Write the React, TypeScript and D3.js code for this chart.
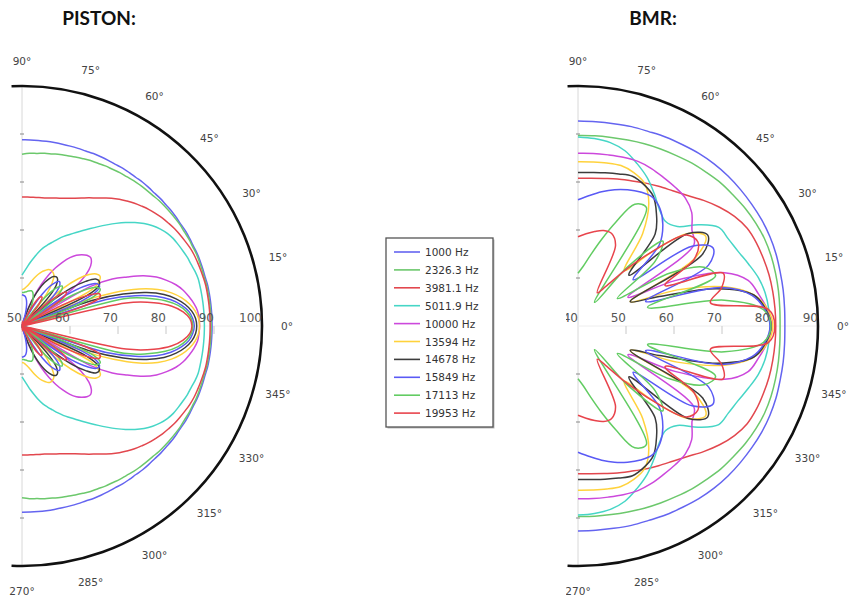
import React from 'react';
import * as d3 from 'd3';

// ---------- data ----------
const seriesNames = ['1000 Hz', '2326.3 Hz', '3981.1 Hz', '5011.9 Hz', '10000 Hz', '13594 Hz', '14678 Hz', '15849 Hz', '17113 Hz', '19953 Hz'];
const seriesColors = ['#6464f0', '#6cc86c', '#e2474e', '#46d6c6', '#cc48dc', '#ffd23c', '#3c3c3c', '#5a5af5', '#62cc62', '#e8444c'];

const angleTickValues = [90, 75, 60, 45, 30, 15, 0, -15, -30, -45, -60, -75, -90];
const angleTickLabels = ['90°', '75°', '60°', '45°', '30°', '15°', '0°', '345°', '330°', '315°', '300°', '285°', '270°'];
const pistonRadialTicks = [50, 60, 70, 80, 90, 100];
const bmrRadialTicks = [40, 50, 60, 70, 80, 90];

// PISTON: level (dB) at 0°..90° every 2.5° (pattern is symmetric about 0°)
const pistonAngles = [0, 2.5, 5, 7.5, 10, 12.5, 15, 17.5, 20, 22.5, 25, 27.5, 30, 32.5, 35, 37.5, 40, 42.5, 45, 47.5, 50, 52.5, 55, 57.5, 60, 62.5, 65, 67.5, 70, 72.5, 75, 77.5, 80, 82.5, 85, 87.5, 90];
const piston1000 = [89.6, 89.6, 89.6, 89.6, 89.6, 89.6, 89.5, 89.5, 89.5, 89.5, 89.4, 89.4, 89.4, 89.3, 89.3, 89.3, 89.2, 89.2, 89.1, 89.1, 89.1, 89.0, 89.0, 89.0, 88.9, 88.9, 88.9, 88.9, 88.8, 88.8, 88.8, 88.8, 88.8, 88.8, 88.8, 88.8, 88.8];
const piston2326 = [89.4, 89.4, 89.4, 89.4, 89.4, 89.4, 89.3, 89.3, 89.3, 89.3, 89.2, 89.2, 89.1, 89.1, 89.0, 88.9, 88.8, 88.7, 88.5, 88.4, 88.3, 88.2, 88.0, 87.9, 87.7, 87.6, 87.4, 87.3, 87.1, 86.9, 86.7, 86.6, 86.4, 86.3, 86.1, 86.0, 85.8];
const piston3981 = [89.2, 89.2, 89.2, 89.2, 89.2, 89.2, 89.1, 89.0, 88.9, 88.8, 88.6, 88.3, 88.0, 87.7, 87.3, 86.9, 86.4, 85.9, 85.3, 84.7, 84.0, 83.3, 82.5, 81.6, 80.8, 80.1, 79.4, 78.8, 78.3, 77.9, 77.6, 77.3, 77.1, 77.0, 76.9, 76.9, 76.9];
const piston5011 = [88.0, 88.0, 88.0, 88.0, 88.0, 88.0, 88.0, 87.8, 87.5, 87.3, 87.0, 86.7, 86.4, 85.9, 85.2, 84.3, 83.2, 81.9, 80.5, 79.0, 77.5, 76.1, 74.8, 73.6, 72.5, 71.5, 70.6, 69.6, 68.6, 67.7, 66.8, 65.7, 64.5, 63.4, 62.3, 61.4, 60.6];
const piston10000 = [87.0, 86.9, 86.7, 86.1, 85.3, 84.4, 83.2, 81.6, 79.8, 77.4, 74.2, 71.2, 66.5, 47, 58.5, 65.5, 68.2, 69.6, 70.2, 70.0, 69.4, 68.6, 67.4, 65.8, 64.0, 62.0, 59.6, 57.0, 54.5, 52.0, 49.5, 47, 45, 44, 42, 41, 40];
const piston13594 = [87.0, 86.8, 86.2, 85.2, 83.8, 81.9, 79.3, 75.6, 70.3, 63.0, 45, 66.5, 68.6, 69.3, 68.9, 67.6, 65.3, 61.6, 55.0, 45, 53.0, 58.5, 60.9, 62.4, 62.9, 63.1, 63.0, 62.5, 62.0, 61.3, 60.5, 59.7, 59.0, 58.4, 58.0, 57.7, 57.6];
const piston14678 = [86.4, 86.2, 85.5, 84.3, 82.6, 80.3, 76.9, 72.1, 65.5, 45, 64.8, 68.0, 68.6, 68.2, 66.2, 63.1, 57.4, 45, 52.4, 58.5, 61.1, 62.2, 62.5, 62.2, 61.4, 60.2, 58.6, 56.7, 54.1, 50.9, 46.9, 41, 36, 36, 41, 43, 44];
const piston15849 = [85.9, 85.6, 84.9, 83.5, 81.5, 78.6, 74.4, 68.4, 45, 62.9, 67.2, 68.2, 67.7, 65.4, 61.1, 53.3, 45, 57.0, 60.3, 61.7, 62.1, 61.4, 60.1, 57.9, 54.9, 48.9, 41, 41, 47.9, 50.4, 52.9, 54.4, 55.4, 56.0, 56.3, 56.4, 56.5];
const piston17113 = [85.6, 85.3, 84.4, 82.8, 80.3, 76.7, 72.0, 45, 59.0, 66.3, 68.0, 67.5, 64.9, 59.6, 45, 52.6, 59.0, 61.3, 61.8, 60.9, 59.0, 55.9, 50.0, 45, 47.6, 51.6, 54.6, 56.0, 56.8, 57.4, 57.6, 57.5, 57.4, 57.2, 57.1, 57.0, 57.0];
const piston19953 = [85.4, 85.0, 83.7, 81.5, 77.9, 72.2, 47, 61.9, 67.2, 67.5, 65.1, 59.4, 45, 56.7, 60.9, 61.6, 60.1, 56.4, 47.4, 43, 52.4, 55.9, 57.3, 57.2, 56.4, 54.4, 51.9, 47.4, 42, 35, 40, 45, 47, 48, 50, 51, 51];

// BMR: level (dB) at 0°..90° every 5° (symmetric about 0°)
const bmrAngles = [0, 5, 10, 15, 20, 25, 30, 35, 40, 45, 50, 55, 60, 65, 70, 75, 80, 85, 90];
const bmr1000 = [83.1, 83.2, 83.4, 83.6, 83.9, 84.1, 84.2, 84.2, 84.2, 84.2, 84.1, 83.9, 83.6, 83.4, 83.1, 83.0, 82.8, 82.7, 82.7];
const bmr2326 = [82.1, 82.2, 82.4, 82.6, 82.8, 82.9, 82.8, 82.6, 82.3, 82.1, 81.7, 81.4, 81.0, 80.7, 80.4, 80.1, 79.9, 79.8, 79.7];
const bmr3981 = [81.2, 81.2, 81.2, 81.2, 81.1, 81.0, 80.7, 79.8, 78.5, 77.0, 75.5, 74.4, 73.6, 72.9, 72.2, 71.7, 71.2, 70.9, 70.8];
const bmr5011 = [80.0, 79.9, 79.6, 78.9, 77.8, 76.8, 76.2, 75.8, 72.8, 69.3, 68.4, 69.6, 71.8, 74.1, 76.0, 77.8, 78.8, 79.2, 79.4];
const bmr10000 = [80.4, 79.6, 78.2, 76.7, 72.5, 62.5, 52, 69.5, 71, 73.5, 74.8, 75.3, 75.7, 76.2, 76.5, 76.4, 76.2, 76.1, 76.0];
const bmr13594 = [80.6, 79.7, 77.2, 71.5, 62, 52, 68, 72.5, 70, 62, 55, 63.5, 69.5, 72.8, 74, 74.6, 74.5, 74.3, 74.2];
const bmr14678 = [80.2, 79.3, 77.2, 70, 58, 52, 70, 73, 70, 55, 65, 68.5, 71.3, 72.5, 73.2, 72.8, 72.4, 72.1, 72.0];
const bmr15849 = [80.0, 79.1, 76.8, 71.0, 55, 70, 72.5, 69, 55, 64, 67.5, 69.8, 71.0, 70.8, 70.2, 69.4, 68.4, 67.3, 66.3];
const bmr17113 = [80.2, 78.8, 71, 55, 70.5, 69, 62, 50, 61, 65, 56, 46, 68.5, 68, 63, 58.5, 55, 52.5, 51];
const bmr19953 = [81.0, 79.8, 68, 71, 72.2, 60, 68, 70.5, 69.5, 62, 55, 50, 48, 58.5, 60.5, 60.6, 60, 59.3, 58.6];

const pistonSeries = [piston1000, piston2326, piston3981, piston5011, piston10000, piston13594, piston14678, piston15849, piston17113, piston19953];
const bmrSeries = [bmr1000, bmr2326, bmr3981, bmr5011, bmr10000, bmr13594, bmr14678, bmr15849, bmr17113, bmr19953];

// ---------- drawing ----------
const R = 240;
const LABEL_R = 265;
const rad = (deg: number) => (deg * Math.PI) / 180;

type Pt = { a: number; v: number };

function mirrored(angles: number[], values: number[]): Pt[] {
  const pts: Pt[] = [];
  for (let i = angles.length - 1; i > 0; i--) pts.push({ a: -angles[i], v: values[i] });
  for (let i = 0; i < angles.length; i++) pts.push({ a: angles[i], v: values[i] });
  return pts;
}

function Polar(props: {
  cx: number; cy: number; domain: [number, number]; ticks: number[];
  angles: number[]; series: number[][]; curve: any; clipX?: number; id: string;
}) {
  const { cx, cy, domain, ticks, angles, series, curve, clipX, id } = props;
  const r = d3.scaleLinear().domain(domain).range([0, R]).clamp(true);
  const line = d3
    .lineRadial<Pt>()
    .angle((d) => rad(90 - d.a))
    .radius((d) => r(d.v))
    .curve(curve);

  const arc = d3.path();
  arc.arc(0, 0, R, rad(-92.5), rad(92.5), false);

  const vTicks = d3.range(-5, 6).filter((k) => k !== 0);

  return (
    <g clipPath={clipX !== undefined ? `url(#${id})` : undefined}>
      {clipX !== undefined && (
        <defs>
          <clipPath id={id}>
            <rect x={clipX} y={0} width={400} height={607} />
          </clipPath>
        </defs>
      )}
      <g transform={`translate(${cx},${cy})`}>
        <line x1={0} y1={-R} x2={0} y2={R} stroke="#d8d8d8" strokeWidth={1} />
        {vTicks.map((k) => (
          <line key={'vt' + k} x1={-2} x2={2} y1={k * 48} y2={k * 48} stroke="#888" strokeWidth={1} />
        ))}
        <line x1={0} y1={0} x2={R} y2={0} stroke="#eeeeee" strokeWidth={1} />
        {ticks.slice(1).map((t) => (
          <line key={'ht' + t} x1={r(t)} x2={r(t)} y1={0} y2={8} stroke="#c8c8c8" strokeWidth={1} />
        ))}
        {series.map((vals, i) => (
          <path key={'s' + i} d={line(mirrored(angles, vals)) || ''} fill="none" stroke={seriesColors[i]} strokeWidth={1.5} strokeLinejoin="round" />
        ))}
        <path d={arc.toString()} fill="none" stroke="#111" strokeWidth={2.6} />
        {ticks.map((t) => (
          <text key={'rl' + t} x={r(t)} y={-4} textAnchor="end" fontFamily="DejaVu Sans, sans-serif" fontSize={12} fill="#555">
            {t}
          </text>
        ))}
        {angleTickValues.map((a, i) => (
          <text
            key={'al' + a}
            x={LABEL_R * Math.cos(rad(a))}
            y={-LABEL_R * Math.sin(rad(a))}
            dy="0.35em"
            textAnchor="middle"
            fontFamily="DejaVu Sans, sans-serif"
            fontSize={10.5}
            fill="#444"
          >
            {angleTickLabels[i]}
          </text>
        ))}
      </g>
    </g>
  );
}

function Legend() {
  const x0 = 386, y0 = 238, w = 107, h = 189;
  const step = 17.9;
  return (
    <g>
      <rect x={x0 + 1.5} y={y0 + 1.5} width={w} height={h} fill="#bbb" />
      <rect x={x0} y={y0} width={w} height={h} fill="#fff" stroke="#555" strokeWidth={1.3} />
      {seriesNames.map((name, i) => {
        const y = 252 + i * step;
        return (
          <g key={name}>
            <line x1={394} x2={420} y1={y} y2={y} stroke={seriesColors[i]} strokeWidth={1.6} />
            <text x={425} y={y + 4} fontFamily="DejaVu Sans, sans-serif" fontSize={10.5} fill="#333">
              {name}
            </text>
          </g>
        );
      })}
    </g>
  );
}

export default function App() {
  return (
    <svg width={860} height={607} style={{ position: 'absolute', left: 0, top: 0, background: '#fff' }}>
      <rect x={0} y={0} width={860} height={607} fill="#fff" />
      <text x={99} y={25} textAnchor="middle" fontFamily="Lato, 'Open Sans', sans-serif" fontWeight={700} fontSize={19} fill="#111">
        PISTON:
      </text>
      <text x={653} y={25} textAnchor="middle" fontFamily="Lato, 'Open Sans', sans-serif" fontWeight={700} fontSize={19} fill="#111">
        BMR:
      </text>
      <Polar
        id="pclip"
        cx={22}
        cy={326}
        domain={[50, 100]}
        ticks={pistonRadialTicks}
        angles={pistonAngles}
        series={pistonSeries}
        curve={d3.curveCatmullRom.alpha(0.5)}
      />
      <Polar
        id="bclip"
        cx={578}
        cy={326}
        domain={[40, 90]}
        ticks={bmrRadialTicks}
        angles={bmrAngles}
        series={bmrSeries}
        curve={d3.curveCatmullRom.alpha(0.5)}
        clipX={566}
      />
      <Legend />
    </svg>
  );
}
